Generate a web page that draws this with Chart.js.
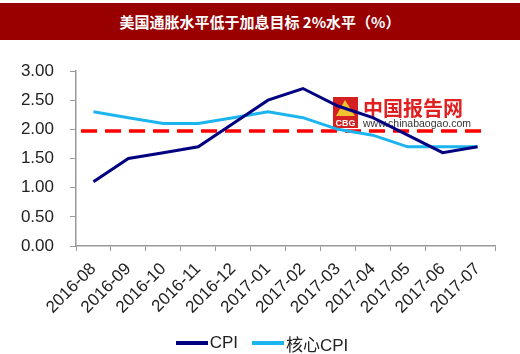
<!DOCTYPE html>
<html lang="zh">
<head>
    <meta charset="UTF-8">
    <title>美国通胀水平低于加息目标 2%水平（%）</title>
    <script src="https://cdn.jsdelivr.net/npm/chart.js"></script>
    <style>
        html, body { margin: 0; padding: 0; background: #fff; }
        .wrap { position: relative; width: 520px; height: 354px; overflow: hidden; }
        .title {
            position: absolute; left: 0; top: 3px; width: 520px; height: 37px;
            background: #990000; color: #fff; text-align: center;
            font: bold 15px "Noto Sans CJK SC", sans-serif; line-height: 37px;
        }
        #cpiChart { position: absolute; left: 0; top: 0; }
        #legend {
            position: absolute; left: 0; top: 332px; width: 524px; height: 22px;
            display: flex; justify-content: center; align-items: center;
            font: 17px "Liberation Sans", Arial, "Noto Sans CJK SC", sans-serif; color: #222;
        }
        #legend .item { display: flex; align-items: center; margin: 0 7px; }
        #legend .swatch { width: 32px; height: 4px; margin-right: 2px; }
    </style>
</head>
<body>
    <div class="wrap">
        <canvas id="cpiChart" width="520" height="354"></canvas>
        <div class="title">美国通胀水平低于加息目标 2%水平（%）</div>
        <div id="legend"></div>
    </div>

    <script>
        // 数据
        const months = ['2016-08', '2016-09', '2016-10', '2016-11', '2016-12', '2017-01',
                        '2017-02', '2017-03', '2017-04', '2017-05', '2017-06', '2017-07'];
        const cpi = [1.1, 1.5, 1.6, 1.7, 2.1, 2.5, 2.7, 2.4, 2.2, 1.9, 1.6, 1.7];
        const coreCpi = [2.3, 2.2, 2.1, 2.1, 2.2, 2.3, 2.2, 2.0, 1.9, 1.7, 1.7, 1.7];
        const target = 1.97;

        const font = '"Liberation Sans", Arial, sans-serif';

        // 红色虚线 + 水印
        const overlay = {
            id: 'overlay',
            beforeDatasetsDraw(chart) {
                const { ctx, scales: { x, y }, chartArea } = chart;
                // 水印
                ctx.save();
                ctx.fillStyle = '#d42020';
                ctx.fillRect(333, 97, 25, 31);
                ctx.fillStyle = '#f2c230';
                ctx.beginPath();
                ctx.moveTo(345, 100); ctx.lineTo(355, 116); ctx.lineTo(336, 116);
                ctx.closePath(); ctx.fill();
                ctx.fillStyle = '#fff';
                ctx.font = 'bold 9px ' + font;
                ctx.textAlign = 'center';
                ctx.fillText('CBG', 345.5, 126);
                ctx.textAlign = 'left';
                ctx.fillStyle = '#e02020';
                ctx.font = 'bold 20px "Noto Sans CJK SC", sans-serif';
                ctx.fillText('中国报告网', 363, 116);
                ctx.fillStyle = '#333';
                ctx.font = '10.5px ' + font;
                ctx.fillText('www.chinabaogao.com', 363, 127);
                // 目标线
                const yy = y.getPixelForValue(target);
                ctx.strokeStyle = '#ff0000';
                ctx.lineWidth = 3.5;
                ctx.setLineDash([16, 8]);
                ctx.beginPath();
                ctx.moveTo(chartArea.left + 5, yy);
                ctx.lineTo(x.getPixelForValue(months.length - 1) + 4, yy);
                ctx.stroke();
                ctx.restore();
            }
        };

        const chart = new Chart(document.getElementById('cpiChart'), {
            type: 'line',
            data: {
                labels: months,
                datasets: [{
                    label: 'CPI',
                    data: cpi,
                    borderColor: '#000080',
                    backgroundColor: '#000080',
                    borderWidth: 3,
                    pointRadius: 0,
                    tension: 0
                }, {
                    label: '核心CPI',
                    data: coreCpi,
                    borderColor: '#1cb4ee',
                    backgroundColor: '#1cb4ee',
                    borderWidth: 3,
                    pointRadius: 0,
                    tension: 0
                }]
            },
            options: {
                responsive: false,
                animation: false,
                layout: { padding: { top: 71, right: 25, left: 0, bottom: 0 } },
                plugins: {
                    title: { display: false },
                    tooltip: { enabled: false },
                    legend: { display: false }
                },
                scales: {
                    x: {
                        offset: true,
                        grid: {
                            display: true, drawOnChartArea: false, offset: true,
                            tickLength: 5, color: '#999'
                        },
                        border: { color: '#999', width: 1.5 },
                        ticks: {
                            minRotation: 45, maxRotation: 45, autoSkip: false,
                            color: '#222', padding: 8,
                            font: { family: font, size: 17 }
                        },
                        afterFit(scale) { scale.height = 108; }
                    },
                    y: {
                        min: 0,
                        max: 3,
                        grid: {
                            display: true, drawOnChartArea: false,
                            tickLength: 6, color: '#999'
                        },
                        border: { color: '#999', width: 1.5 },
                        ticks: {
                            stepSize: 0.5,
                            color: '#222',
                            padding: 16,
                            font: { family: font, size: 17 },
                            callback: v => v.toFixed(2)
                        },
                        afterFit(scale) { scale.width = 76; }
                    }
                }
            },
            plugins: [overlay]
        });

        // 图例
        const legendEl = document.getElementById('legend');
        chart.data.datasets.forEach(ds => {
            const item = document.createElement('span');
            item.className = 'item';
            const sw = document.createElement('span');
            sw.className = 'swatch';
            sw.style.background = ds.borderColor;
            item.appendChild(sw);
            item.appendChild(document.createTextNode(ds.label));
            legendEl.appendChild(item);
        });
    </script>
</body>
</html>
